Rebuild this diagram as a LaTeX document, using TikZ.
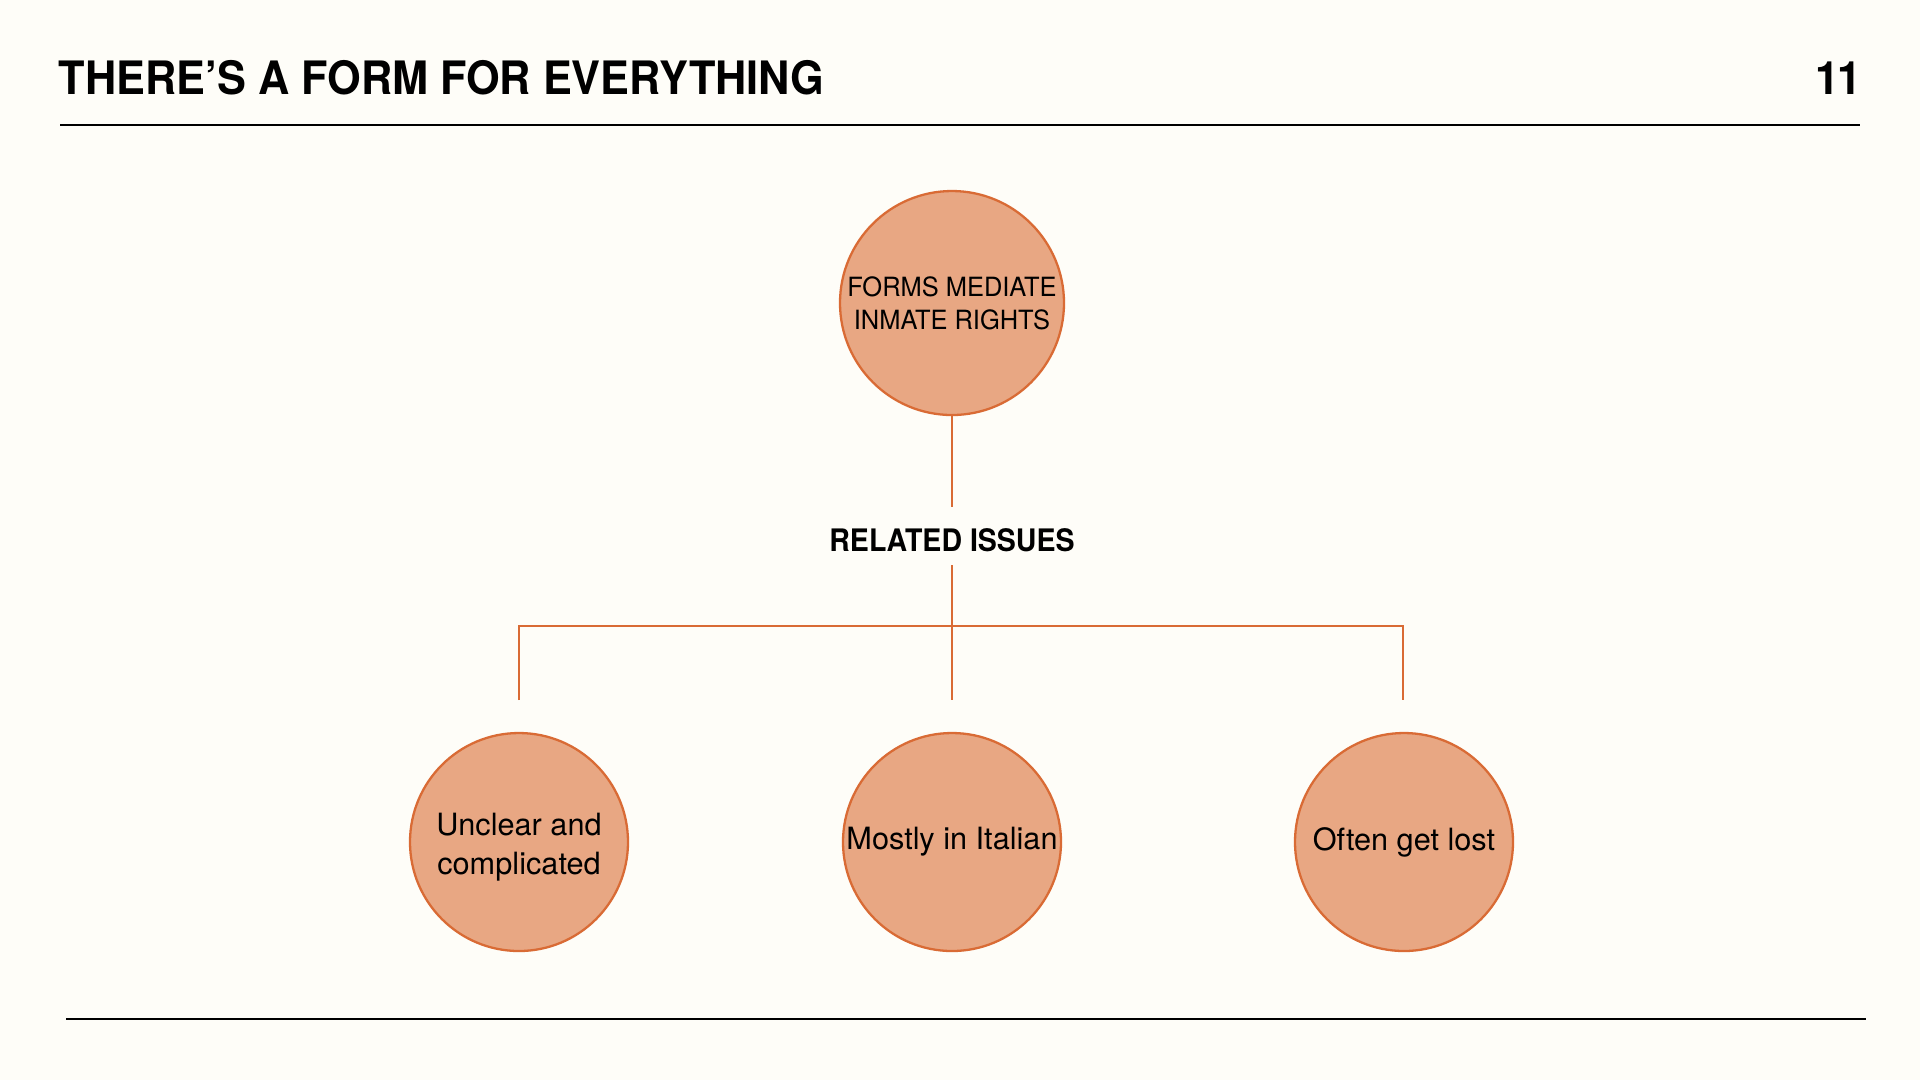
\documentclass[tikz,border=0pt]{standalone}
\usepackage{fontspec}
\setmainfont{TeX Gyre Heros}
\newfontfamily\titlefont{TeX Gyre Heros Bold}[FakeStretch=0.94]
\newfontfamily\capsfont{TeX Gyre Heros}[FakeStretch=0.96]
\newfontfamily\headfont{TeX Gyre Heros Bold}[FakeStretch=0.92]
\usetikzlibrary{calc}
\definecolor{paper}{HTML}{FEFDF8}
\definecolor{rust}{HTML}{D96B35}
\definecolor{salmon}{HTML}{E8A783}
\tikzset{
  bubble/.style={circle,draw=rust,fill=salmon,line width=0.65pt,minimum size=21.8mm,inner sep=0pt,align=center,
    font=\fontsize{8.73}{11}\selectfont},
  link/.style={draw=rust,line width=0.55pt},
  rule/.style={draw=black,line width=0.4pt}
}

\begin{document}
\begin{tikzpicture}[x=0.1mm,y=-0.1mm]
\fill[paper] (0,0) rectangle (1920,1080);
\useasboundingbox (0,0) rectangle (1920,1080);
% header
\node[anchor=base west,inner sep=0pt] (title) at (58,94) {\titlefont\fontsize{13.1}{15}\selectfont THERE’S A FORM FOR EVERYTHING};
\node[anchor=base east,inner sep=0pt] (page) at (1862,94) {\titlefont\fontsize{13.1}{15}\selectfont 1\kern-0.6pt1};
\coordinate (hl) at (60,125); \coordinate (hr) at (1860,125);
\draw[rule] (hl)--(hr);
\coordinate (fl) at (66,1019); \coordinate (fr) at (1866,1019);
\draw[rule] (fl)--(fr);
% top circle
\node[bubble,minimum size=22.4mm,font=\capsfont\fontsize{7.54}{9.39}\selectfont] (forms) at (952,303) {FORMS MEDIATE\\INMATE RIGHTS};
\node[inner sep=0pt,font=\headfont\fontsize{8.82}{10}\selectfont] (rel) at (952,540) {RELATED ISSUES};
\coordinate (relN) at (952,507); \coordinate (relS) at (952,565);
\draw[link] (forms)--(relN);
% issues
\node[bubble] (unclear) at (519,842) {\\[-0.6mm]Unclear and\\complicated};
\node[bubble] (italian) at (952,842) {Mostly in Italian};
\node[bubble] (lost) at (1404,842) {Often get lost};
\coordinate (s1) at (519,700); \coordinate (s2) at (952,700); \coordinate (s3) at (1403,700);
\coordinate (j) at (952,626);
\draw[link] (relS)--(s2);
\draw[link] (s1) |- (j) -| (s3);
\end{tikzpicture}
\end{document}
